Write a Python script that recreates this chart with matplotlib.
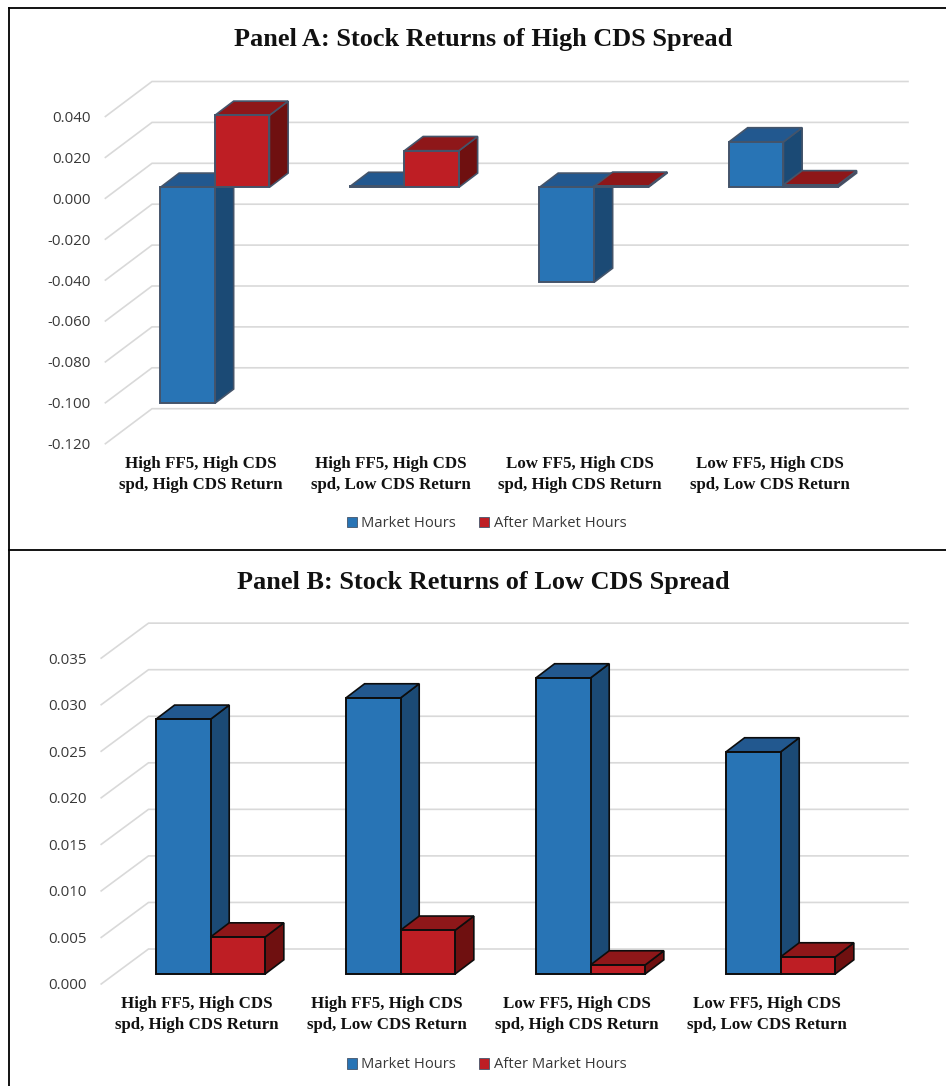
import matplotlib
matplotlib.use('Agg')
import matplotlib.pyplot as plt
from matplotlib.lines import Line2D
from matplotlib.patches import Patch

categorias_a = ['High FF5, High CDS\nspd, High CDS Return', 'High FF5, High CDS\nspd, Low CDS Return',
                'Low FF5, High CDS\nspd, High CDS Return', 'Low FF5, High CDS\nspd, Low CDS Return']
market_a = [-0.1056, 0.0004, -0.0465, 0.0222]
after_a = [0.0352, 0.0179, 0.0005, 0.0012]
ticks_a = [0.040, 0.020, 0.000, -0.020, -0.040, -0.060, -0.080, -0.100, -0.120]

categorias_b = categorias_a
market_b = [0.02736, 0.02965, 0.0318, 0.02385]
after_b = [0.00397, 0.0047, 0.00097, 0.00183]
ticks_b = [0.035, 0.030, 0.025, 0.020, 0.015, 0.010, 0.005, 0.000]

W, H = 946, 1086
AZUL = ('#2874B5', '#22588F', '#1B4A75')
VERMELHO = ('#BE1E24', '#8E1719', '#6F1010')
SERIF = 'Liberation Serif'
SANS = 'Open Sans'

fig = plt.figure(figsize=(W / 100, H / 100), dpi=100, facecolor='white')


def barra_3d(ax, x, largura, valor, cores, px_x, px_y, borda):
    # front face comes from bar(), top and side are sheared back by the bar depth
    base = min(0, valor)
    topo = max(0, valor)
    dx = 18.7 * px_x
    dy = 14.2 * px_y
    esq = x - largura
    dir = x
    ax.fill([dir, dir + dx, dir + dx, dir], [base, base + dy, topo + dy, topo],
            facecolor=cores[2], edgecolor=borda, lw=1.2, zorder=3, clip_on=False)
    ax.fill([esq, esq + dx, dir + dx, dir], [topo, topo + dy, topo + dy, topo],
            facecolor=cores[1], edgecolor=borda, lw=1.2, zorder=3, clip_on=False)
    ax.bar(esq, topo - base, bottom=base, width=largura, align='edge',
           facecolor=cores[0], edgecolor=borda, lw=1.4, zorder=3, clip_on=False)


def painel(rect, ylim, titulo, titulo_y, categorias, market, after, ticks, cor_borda, parede, frente, folga, leg_y):
    esq, topo, larg, alt = rect
    ax = fig.add_axes([esq / W, 1 - (topo + alt) / H, larg / W, alt / H])
    ax.set_xlim(-0.5, 3.5)
    ax.set_ylim(*ylim)
    ax.axis('off')
    ax.patch.set_alpha(0)

    px_x = 4.0 / larg
    px_y = (ylim[1] - ylim[0]) / alt

    # back wall gridlines plus the diagonal running to the front edge
    for v in ticks:
        xp = -0.5 + parede[0] * px_x
        yp = v + parede[1] * px_y
        xf = -0.5 + frente[0] * px_x
        yf = v + frente[1] * px_y
        ax.plot([xf, xp, 3.5 + (parede[0] - folga) * px_x], [yf, yp, yp], color='#D9D9D9', lw=1.2,
                zorder=1, clip_on=False, solid_joinstyle='miter')
        ax.annotate(f'{v:.3f}', xy=(xf, yf), xytext=(-10.5, -1.4), textcoords='offset points',
                    ha='right', va='center', fontsize=10.8, family=SANS, color='#383838',
                    annotation_clip=False)

    largura = 0.2875
    for i in range(len(categorias)):
        barra_3d(ax, i, largura, market[i], AZUL, px_x, px_y, cor_borda)
        barra_3d(ax, i + largura, largura, after[i], VERMELHO, px_x, px_y, cor_borda)
        ax.annotate(categorias[i], xy=(i + frente[0] * px_x, ylim[0] + frente[1] * px_y), xytext=(0.7, -22),
                    textcoords='offset points', ha='center', va='center', fontsize=12.15,
                    family=SERIF, weight='bold', color='#111111', linespacing=1.42,
                    annotation_clip=False)

    fig.text(483.5 / W, 1 - titulo_y / H, titulo, ha='center', va='center', fontsize=18.95,
             family=SERIF, weight='bold', color='#111111')

    fig.legend(handles=[Patch(facecolor=AZUL[0], edgecolor='#44546A', lw=0.6, label='Market Hours'),
                        Patch(facecolor=VERMELHO[0], edgecolor='#44546A', lw=0.6, label='After Market Hours')],
               loc='center', bbox_to_anchor=(486.5 / W, 1 - leg_y / H), ncol=2, frameon=False,
               prop={'family': SANS, 'size': 10.6}, labelcolor='#383838', handlelength=0.7, handleheight=0.7,
               handletextpad=0.3, columnspacing=1.55)


painel((120.2, 105.5, 758, 327.2), (-0.12, 0.04), 'Panel A: Stock Returns of High CDS Spread', 39.5,
       categorias_a, market_a, after_a, ticks_a, '#44546A', (31.8, 24), (-14.8, -11), 2, 523.5)
painel((115.5, 648.15, 760, 325.85), (0.0, 0.035), 'Panel B: Stock Returns of Low CDS Spread', 582.5,
       categorias_b, market_b, after_b, ticks_b, '#0D0D0D', (33, 25), (-14.3, -10), 0.5, 1065)

# black panel frame and divider
for xs, ys in [((9, 9), (8, H)), ((9, W), (8, 8)), ((9, W), (549.5, 549.5))]:
    fig.add_artist(Line2D([x / W for x in xs], [1 - y / H for y in ys], color='black', lw=1.3))

plt.savefig('out.png', dpi=100)
